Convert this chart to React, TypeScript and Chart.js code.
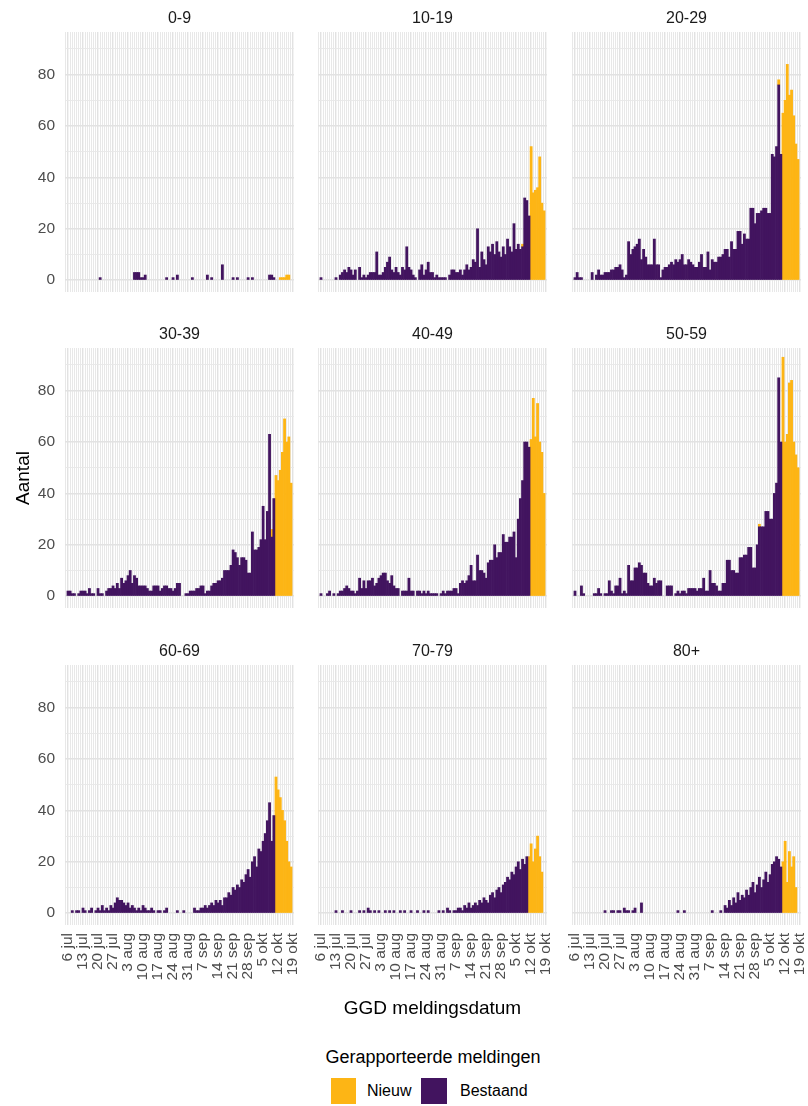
import React, { useEffect, useRef } from "react";
import { Chart, registerables } from "chart.js";

Chart.register(...registerables);

// ---------- data ----------
const GROUPS: string[] = ["0-9", "10-19", "20-29", "30-39", "40-49", "50-59", "60-69", "70-79", "80+"];

// weekly tick labels, one per 7 days starting at 6 jul (day 0)
const TICK_LABELS: string[] = [
  "6 jul", "13 jul", "20 jul", "27 jul", "3 aug", "10 aug", "17 aug", "24 aug",
  "31 aug", "7 sep", "14 sep", "21 sep", "28 sep", "5 okt", "12 okt", "19 okt",
];

// daily values, day 0 = 6 jul ... day 105 = 19 okt
const BESTAAND_0_9: number[] = [
  0,0,0,0,0,0,0,0,0,0, 0,0,0,0,0,1,0,0,0,0, 0,0,0,0,0,0,0,0,0,0, 0,3,3,3,1,1,2,0,0,0,
  0,0,0,0,0,0,1,0,0,1, 0,2,0,0,0,0,0,0,1,0, 0,0,0,0,0,2,0,1,0,0, 0,0,6,0,0,0,0,1,0,1,
  0,0,0,0,1,0,1,0,0,0, 0,0,0,0,2,2,1,0,0,0, 0,0,0,0,0,0,
];
const NIEUW_0_9: number[] = [
  0,0,0,0,0,0,0,0,0,0, 0,0,0,0,0,0,0,0,0,0, 0,0,0,0,0,0,0,0,0,0, 0,0,0,0,0,0,0,0,0,0,
  0,0,0,0,0,0,0,0,0,0, 0,0,0,0,0,0,0,0,0,0, 0,0,0,0,0,0,0,0,0,0, 0,0,0,0,0,0,0,0,0,0,
  0,0,0,0,0,0,0,0,0,0, 0,0,0,0,0,0,0,0,0,1, 1,1,2,2,0,0,
];
const BESTAAND_10_19: number[] = [
  1,0,0,0,0,0,0,1,0,2, 3,4,3,5,4,2,4,0,5,1, 2,1,2,3,3,3,11,2,2,3, 5,7,9,4,3,5,3,2,5,4,
  13,5,4,2,1,0,4,6,2,4, 7,3,3,1,2,1,1,1,1,0, 2,4,4,3,3,4,2,4,6,4, 5,8,7,20,5,11,8,6,13,11,
  14,10,15,11,9,13,10,16,13,11, 22,12,14,12,13,32,31,25,0,0, 0,0,0,0,0,0,
];
const NIEUW_10_19: number[] = [
  0,0,0,0,0,0,0,0,0,0, 0,0,0,0,0,0,0,0,0,0, 0,0,0,0,0,0,0,0,0,0, 0,0,0,0,0,0,0,0,0,0,
  0,0,0,0,0,0,0,0,0,0, 0,0,0,0,0,0,0,0,0,0, 0,0,0,0,0,0,0,0,0,0, 0,0,0,0,0,0,0,0,0,0,
  0,0,0,0,0,0,0,0,0,0, 0,0,0,0,1,0,0,0,52,34, 35,36,48,30,27,0,
];
const BESTAAND_20_29: number[] = [
  1,3,1,1,0,0,0,0,3,0, 2,4,2,2,3,3,3,4,4,5, 5,6,4,1,2,15,10,12,13,14, 16,8,12,9,6,6,6,16,6,6,
  1,4,5,5,6,7,6,8,7,8, 10,6,6,8,7,6,5,5,7,10, 5,5,11,4,8,7,7,9,9,10, 12,12,9,15,12,12,19,19,14,18,
  16,16,28,28,22,26,26,27,28,28, 26,26,49,48,52,76,49,0,0,0, 0,0,0,0,0,0,
];
const NIEUW_20_29: number[] = [
  0,0,0,0,0,0,0,0,0,0, 0,0,0,0,0,0,0,0,0,0, 0,0,0,0,0,0,0,0,0,0, 0,0,0,0,0,0,0,0,0,0,
  0,0,0,0,0,0,0,0,0,0, 0,0,0,0,0,0,0,0,0,0, 0,0,0,0,0,0,0,0,0,0, 0,0,0,0,0,0,0,0,0,0,
  0,0,0,0,0,0,0,0,0,0, 0,0,0,0,0,2,0,65,70,84, 72,74,64,53,47,0,
];
const BESTAAND_30_39: number[] = [
  2,2,1,1,0,1,2,2,2,1, 3,1,1,0,3,1,1,0,2,3, 3,4,3,5,3,7,5,6,8,10, 5,8,7,4,4,4,4,3,2,2,
  4,4,4,2,3,4,4,3,3,2, 3,5,5,0,0,1,1,2,2,2, 3,3,4,4,1,2,2,4,5,5, 6,6,7,10,10,10,12,18,17,15,
  12,15,15,14,9,9,25,18,18,19, 22,35,22,33,63,23,38,0,0,0, 0,0,0,0,0,0,
];
const NIEUW_30_39: number[] = [
  0,0,0,0,0,0,0,0,0,0, 0,0,0,0,0,0,0,0,0,0, 0,0,0,0,0,0,0,0,0,0, 0,0,0,0,0,0,0,0,0,0,
  0,0,0,0,0,0,0,0,0,0, 0,0,0,0,0,0,0,0,0,0, 0,0,0,0,0,0,0,0,0,0, 0,0,0,0,0,0,0,0,0,0,
  0,0,0,0,0,0,0,0,0,0, 0,0,0,0,0,3,0,47,45,49, 56,69,60,62,44,0,
];
const BESTAAND_40_49: number[] = [
  1,0,0,1,2,0,1,0,1,2, 2,3,4,3,2,2,1,2,7,3, 6,3,6,6,7,4,5,7,8,9, 9,6,5,8,4,3,3,0,2,2,
  2,7,2,2,0,2,2,1,2,1, 2,1,1,1,1,0,1,2,1,2, 2,2,3,3,1,5,6,5,6,8, 12,6,6,16,10,10,9,7,13,14,
  14,20,15,17,17,24,21,21,23,23, 25,15,30,38,45,60,60,58,0,0, 0,0,0,0,0,0,
];
const NIEUW_40_49: number[] = [
  0,0,0,0,0,0,0,0,0,0, 0,0,0,0,0,0,0,0,0,0, 0,0,0,0,0,0,0,0,0,0, 0,0,0,0,0,0,0,0,0,0,
  0,0,0,0,0,0,0,0,0,0, 0,0,0,0,0,0,0,0,0,0, 0,0,0,0,0,0,0,0,0,0, 0,0,0,0,0,0,0,0,0,0,
  0,0,0,0,0,0,0,0,0,0, 0,0,0,0,0,0,0,0,61,77, 62,75,60,56,40,0,
];
const BESTAAND_50_59: number[] = [
  2,0,0,4,1,0,0,0,0,1, 1,3,1,0,1,1,6,2,1,4, 4,7,1,2,1,12,6,6,11,11, 13,12,9,9,5,4,4,7,5,6,
  6,0,0,4,4,4,0,1,2,1, 2,2,1,3,3,3,3,2,3,3, 7,2,2,10,5,5,4,2,2,5, 5,14,14,10,10,9,9,15,15,16,
  16,19,19,11,11,20,27,27,27,33, 33,30,30,40,44,85,60,0,0,0, 0,0,0,0,0,0,
];
const NIEUW_50_59: number[] = [
  0,0,0,0,0,0,0,0,0,0, 0,0,0,0,0,0,0,0,0,0, 0,0,0,0,0,0,0,0,0,0, 0,0,0,0,0,0,0,0,0,0,
  0,0,0,0,0,0,0,0,0,0, 0,0,0,0,0,0,0,0,0,0, 0,0,0,0,0,0,0,0,0,0, 0,0,0,0,0,0,0,0,0,0,
  0,0,0,0,0,0,1,0,0,0, 0,0,0,0,0,0,0,93,60,63, 83,84,60,55,50,0,
];
const BESTAAND_60_69: number[] = [
  0,0,1,0,1,1,0,2,1,0, 1,2,0,1,2,1,3,1,2,1, 3,2,4,6,5,5,4,3,4,2, 3,2,1,2,1,3,2,1,1,2,
  1,0,1,1,0,1,2,0,0,0, 0,1,0,0,1,0,0,0,0,2, 1,1,2,2,3,2,3,4,3,5, 4,5,3,6,6,8,7,10,9,11,
  10,13,12,15,17,14,20,22,18,25, 24,28,31,36,43,28,38,0,0,0, 0,0,0,0,0,0,
];
const NIEUW_60_69: number[] = [
  0,0,0,0,0,0,0,0,0,0, 0,0,0,0,0,0,0,0,0,0, 0,0,0,0,0,0,0,0,0,0, 0,0,0,0,0,0,0,0,0,0,
  0,0,0,0,0,0,0,0,0,0, 0,0,0,0,0,0,0,0,0,0, 0,0,0,0,0,0,0,0,0,0, 0,0,0,0,0,0,0,0,0,0,
  0,0,0,0,0,0,0,0,0,0, 0,0,0,0,0,0,0,53,48,45, 40,36,28,20,18,0,
];
const BESTAAND_70_79: number[] = [
  0,0,0,0,0,0,0,1,0,0, 1,0,0,0,1,0,0,0,1,0, 1,0,2,1,0,1,0,1,0,0, 1,0,1,0,1,0,0,1,0,1,
  0,0,1,0,0,1,0,0,1,0, 1,0,0,0,0,1,0,1,0,2, 1,0,1,1,2,2,1,3,2,4, 2,3,4,3,5,4,6,5,4,7,
  8,6,9,10,8,11,12,14,13,16, 15,18,20,17,21,19,22,0,0,0, 0,0,0,0,0,0,
];
const NIEUW_70_79: number[] = [
  0,0,0,0,0,0,0,0,0,0, 0,0,0,0,0,0,0,0,0,0, 0,0,0,0,0,0,0,0,0,0, 0,0,0,0,0,0,0,0,0,0,
  0,0,0,0,0,0,0,0,0,0, 0,0,0,0,0,0,0,0,0,0, 0,0,0,0,0,0,0,0,0,0, 0,0,0,0,0,0,0,0,0,0,
  0,0,0,0,0,0,0,0,0,0, 0,0,0,0,0,0,0,22,27,20, 25,30,22,16,0,0,
];
const BESTAAND_80: number[] = [
  0,0,0,0,0,0,0,0,0,0, 0,0,0,0,1,0,0,1,1,0, 1,1,0,2,1,1,0,1,2,0, 0,4,0,0,0,0,0,0,0,0,
  0,0,0,0,0,0,0,0,1,0, 0,1,0,0,0,0,0,0,0,0, 0,0,0,0,1,0,0,0,1,0, 3,2,5,3,6,4,8,5,7,6,
  9,7,10,12,8,11,14,10,13,16, 12,15,19,20,22,21,18,0,0,0, 0,0,0,0,0,0,
];
const NIEUW_80: number[] = [
  0,0,0,0,0,0,0,0,0,0, 0,0,0,0,0,0,0,0,0,0, 0,0,0,0,0,0,0,0,0,0, 0,0,0,0,0,0,0,0,0,0,
  0,0,0,0,0,0,0,0,0,0, 0,0,0,0,0,0,0,0,0,0, 0,0,0,0,0,0,0,0,0,0, 0,0,0,0,0,0,0,0,0,0,
  0,0,0,0,0,0,0,0,0,0, 0,0,0,0,0,0,0,20,28,12, 24,18,22,10,0,0,
];

const BESTAAND: number[][] = [
  BESTAAND_0_9, BESTAAND_10_19, BESTAAND_20_29, BESTAAND_30_39, BESTAAND_40_49,
  BESTAAND_50_59, BESTAAND_60_69, BESTAAND_70_79, BESTAAND_80,
];
const NIEUW: number[][] = [
  NIEUW_0_9, NIEUW_10_19, NIEUW_20_29, NIEUW_30_39, NIEUW_40_49,
  NIEUW_50_59, NIEUW_60_69, NIEUW_70_79, NIEUW_80,
];

const Y_GRID_VALUES: number[] = [0, 10, 20, 30, 40, 50, 60, 70, 80, 90];

// ---------- style / layout ----------
const NIEUW_COLOR = "#FDB515";
const BESTAAND_COLOR = "#42145F";
const FONT = "'Liberation Sans', Arial, Helvetica, sans-serif";
const GRID_MINOR = "#e8e8e8";
const GRID_MAJOR = "#e2e2e2";
const AXIS_TEXT = "#4d4d4d";

const COL_LEFT = [65, 318, 572];
const ROW_TOP = [32, 348, 665];
const PANEL_W = 229;
const PANEL_H = 260;
const TITLE_H = 26;
const X_AXIS_H = 100;
const SIDE_PAD = 14;

const X_MIN = -1.4;
const X_MAX = 105.4;
const Y_MIN = -4.6;
const Y_MAX = 96.6;

function toPoints(arr: number[]) {
  return arr.map((v, i) => ({ x: i, y: v === 0 ? null : v }));
}

function Panel({ idx }: { idx: number }) {
  const ref = useRef<HTMLCanvasElement | null>(null);
  const r = Math.floor(idx / 3);
  const c = idx % 3;
  const yW = c === 0 ? COL_LEFT[0] : 0;
  const padL = c === 0 ? 0 : SIDE_PAD;
  const padR = SIDE_PAD;
  const xH = r === 2 ? X_AXIS_H : 0;
  const left = COL_LEFT[c] - yW - padL;
  const top = ROW_TOP[r] - TITLE_H;
  const width = padL + yW + PANEL_W + padR;
  const height = TITLE_H + PANEL_H + xH;

  useEffect(() => {
    const xDays: number[] = [];
    for (let d = Math.ceil(X_MIN); d <= Math.floor(X_MAX); d++) xDays.push(d);
    const zeroPad = (s: any) => {
      s.paddingLeft = 0;
      s.paddingRight = 0;
      s.paddingTop = 0;
      s.paddingBottom = 0;
    };
    const chart = new Chart(ref.current as HTMLCanvasElement, {
      type: "bar",
      data: {
        datasets: [
          {
            label: "Bestaand",
            data: toPoints(BESTAAND[idx]) as any,
            backgroundColor: BESTAAND_COLOR,
            borderWidth: 0,
            barPercentage: 1,
            categoryPercentage: 1,
          },
          {
            label: "Nieuw",
            data: toPoints(NIEUW[idx]) as any,
            backgroundColor: NIEUW_COLOR,
            borderWidth: 0,
            barPercentage: 1,
            categoryPercentage: 1,
          },
        ],
      },
      options: {
        responsive: false,
        animation: false,
        devicePixelRatio: 1,
        layout: { padding: { left: padL, right: padR, top: 0, bottom: 0 } },
        plugins: {
          legend: { display: false },
          tooltip: { enabled: false },
          title: {
            display: true,
            text: GROUPS[idx],
            fullSize: false,
            color: "#1a1a1a",
            font: { family: FONT, size: 16, weight: "normal" },
            padding: { top: 3, bottom: 3.8 },
          },
        },
        scales: {
          x: {
            type: "linear",
            min: X_MIN,
            max: X_MAX,
            bounds: "data",
            offset: false,
            stacked: true,
            afterBuildTicks: (s: any) => {
              s.ticks = xDays.map((v) => ({ value: v }));
            },
            afterFit: (s: any) => {
              s.height = xH;
              zeroPad(s);
            },
            ticks: {
              display: r === 2,
              autoSkip: false,
              minRotation: 90,
              maxRotation: 90,
              padding: 8,
              color: AXIS_TEXT,
              font: { family: FONT, size: 15.5 },
              callback: (v: any) => (v >= 0 && v % 7 === 0 ? TICK_LABELS[v / 7] : ""),
            },
            grid: {
              offset: false,
              drawTicks: false,
              color: (ctx: any) => (ctx.tick && ctx.tick.value % 7 === 0 ? GRID_MAJOR : GRID_MINOR),
              lineWidth: (ctx: any) => (ctx.tick && ctx.tick.value % 7 === 0 ? 1.4 : 1),
            },
            border: { display: false },
            title: {
              display: idx === 7,
              text: "GGD meldingsdatum",
              color: "#000000",
              font: { family: FONT, size: 19 },
              padding: { top: 0, bottom: 5 },
            },
          },
          y: {
            type: "linear",
            min: Y_MIN,
            max: Y_MAX,
            bounds: "data",
            stacked: true,
            afterBuildTicks: (s: any) => {
              s.ticks = Y_GRID_VALUES.map((v) => ({ value: v }));
            },
            afterFit: (s: any) => {
              s.width = yW;
              zeroPad(s);
            },
            ticks: {
              display: c === 0,
              padding: 10,
              color: AXIS_TEXT,
              font: { family: FONT, size: 15.5 },
              callback: (v: any) => (v % 20 === 0 ? String(v) : ""),
            },
            grid: {
              drawTicks: false,
              color: (ctx: any) => (ctx.tick && ctx.tick.value % 20 === 0 ? GRID_MAJOR : GRID_MINOR),
              lineWidth: (ctx: any) => (ctx.tick && ctx.tick.value % 20 === 0 ? 1.4 : 0.9),
            },
            border: { display: false },
            title: {
              display: idx === 3,
              text: "Aantal",
              color: "#000000",
              font: { family: FONT, size: 19 },
              padding: { top: 12, bottom: 0 },
            },
          },
        },
      } as any,
    });
    return () => chart.destroy();
  }, [idx]);

  return (
    <canvas
      ref={ref}
      width={width}
      height={height}
      style={{ position: "absolute", left, top, width, height }}
    />
  );
}

export default function App() {
  return (
    <div
      style={{
        position: "absolute",
        left: 0,
        top: 0,
        width: 808,
        height: 1106,
        background: "#ffffff",
        fontFamily: FONT,
        overflow: "hidden",
      }}
    >
      {GROUPS.map((g, i) => (
        <Panel key={g} idx={i} />
      ))}
      <div
        style={{
          position: "absolute",
          left: 0,
          width: 866,
          top: 1046,
          textAlign: "center",
          fontSize: 18,
          color: "#000",
          lineHeight: "22px",
        }}
      >
        Gerapporteerde meldingen
      </div>
      <div style={{ position: "absolute", left: 331, top: 1078, width: 25, height: 26, background: NIEUW_COLOR }} />
      <div style={{ position: "absolute", left: 367, top: 1080, fontSize: 16, lineHeight: "22px", color: "#000" }}>
        Nieuw
      </div>
      <div style={{ position: "absolute", left: 421, top: 1078, width: 26, height: 26, background: BESTAAND_COLOR }} />
      <div style={{ position: "absolute", left: 460, top: 1080, fontSize: 16, lineHeight: "22px", color: "#000" }}>
        Bestaand
      </div>
    </div>
  );
}
